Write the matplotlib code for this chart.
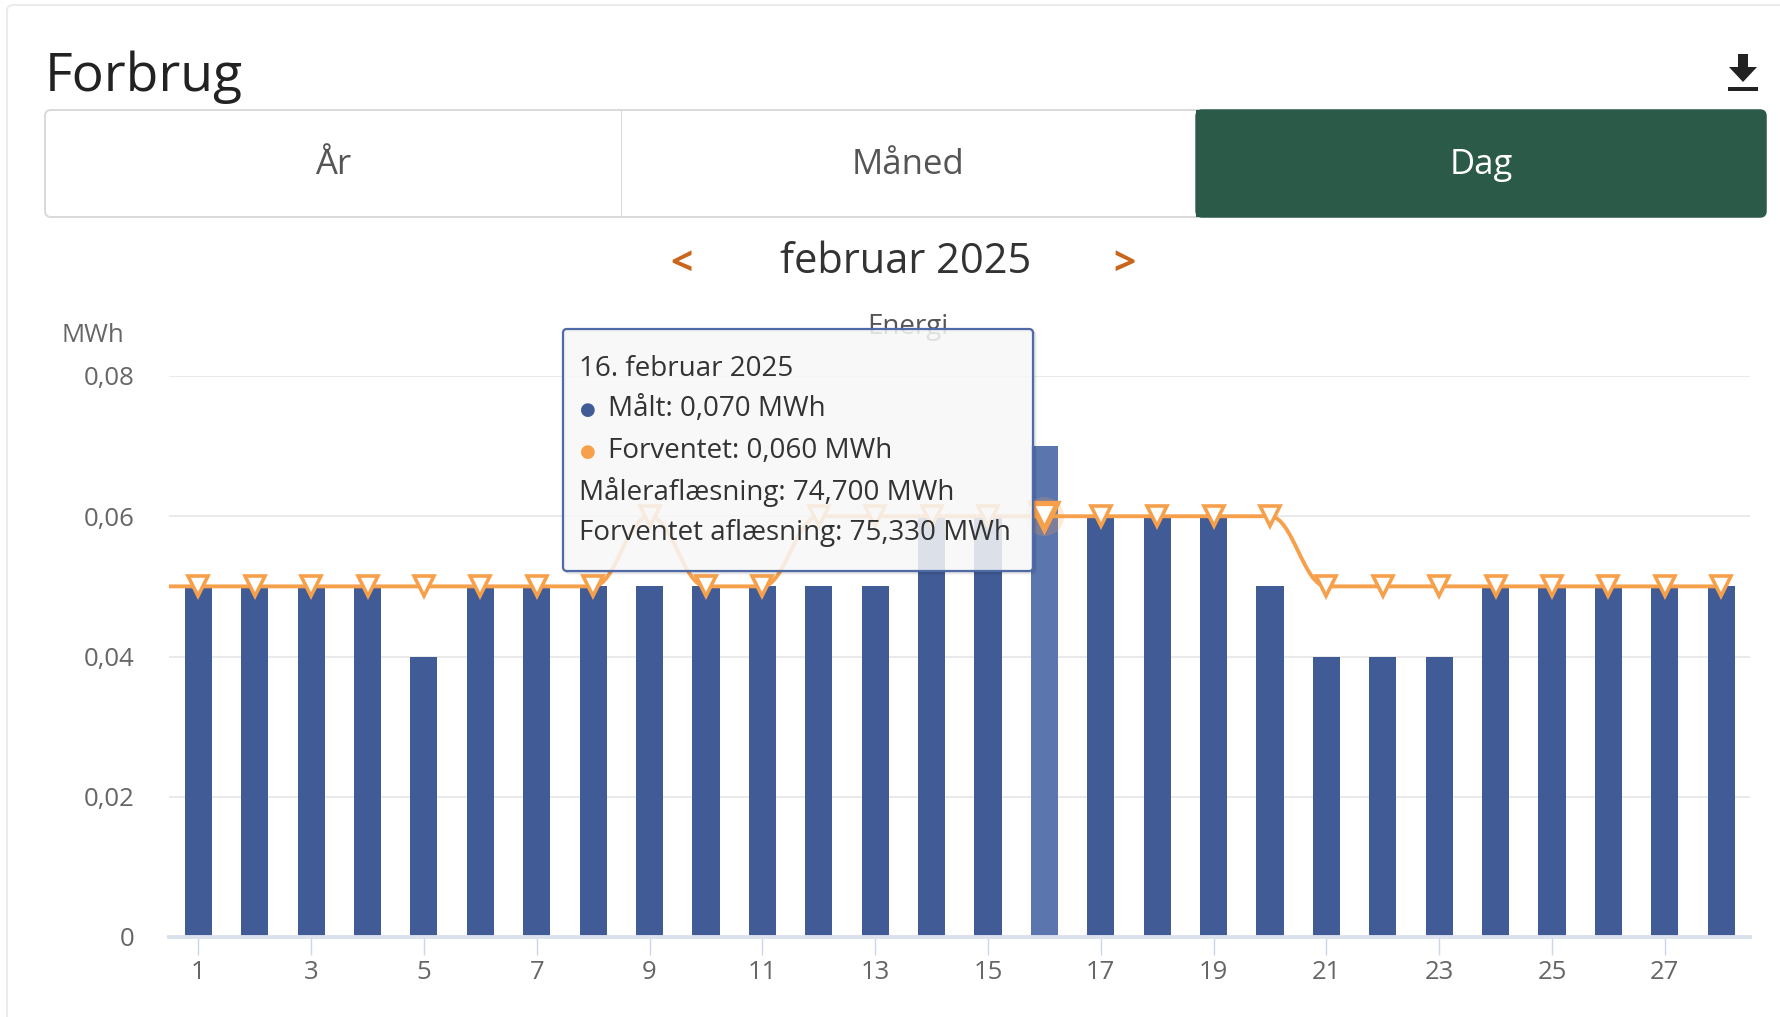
import numpy as np
import matplotlib
matplotlib.use('Agg')
import matplotlib.pyplot as plt
from matplotlib.path import Path
from matplotlib.patches import PathPatch, FancyBboxPatch, Polygon, Rectangle
from matplotlib.transforms import IdentityTransform

# ---------------- data ----------------
days = list(range(1, 29))
measured = [0.05, 0.05, 0.05, 0.05, 0.04, 0.05, 0.05, 0.05, 0.05, 0.05,
            0.05, 0.05, 0.05, 0.06, 0.06, 0.07, 0.06, 0.06, 0.06, 0.05,
            0.04, 0.04, 0.04, 0.05, 0.05, 0.05, 0.05, 0.05]
expected_days = list(range(0, 29))
expected = [0.05, 0.05, 0.05, 0.05, 0.05, 0.05, 0.05, 0.05, 0.05, 0.06,
            0.05, 0.05, 0.06, 0.06, 0.06, 0.06, 0.06, 0.06, 0.06, 0.06,
            0.06, 0.05, 0.05, 0.05, 0.05, 0.05, 0.05, 0.05, 0.05]
highlight_day = 16
xtick_days = list(range(1, 29, 2))
yticks = [0, 0.02, 0.04, 0.06, 0.08]
ytick_labels = ['0', '0,02', '0,04', '0,06', '0,08']
tabs = ['År', 'Måned', 'Dag']
period_label = 'februar 2025'
tooltip_lines = ['16. februar 2025', 'Målt: 0,070 MWh', 'Forventet: 0,060 MWh',
                 'Måleraflæsning: 74,700 MWh', 'Forventet aflæsning: 75,330 MWh']

# ---------------- style ----------------
W, H = 1780, 1017
DPI = 100
FONT = ['Open Sans', 'DejaVu Sans']
plt.rcParams['font.family'] = FONT
BAR = '#405b96'
BAR_HI = '#5b75af'
ORANGE = '#f7a04c'
GREEN = '#2b5a48'

fig = plt.figure(figsize=(W / DPI, H / DPI), dpi=DPI)
fig.patch.set_facecolor('white')
PX = IdentityTransform()


def py(y):
    return H - y


# card border
card = FancyBboxPatch((7, py(1100)), 1900, 1100 - 5, boxstyle='round,pad=0,rounding_size=6',
                      transform=PX, facecolor='white', edgecolor='#ececec', lw=1.5, zorder=-5)
fig.add_artist(card)

# title
fig.text(45 / W, 1 - 91 / H, 'Forbrug', fontsize=38.5, color='#222222', ha='left', va='baseline')

# download icon
cx = 1743
icon = Polygon([(cx - 5, py(54)), (cx + 5, py(54)), (cx + 5, py(67)), (cx + 14, py(67)),
                (cx, py(82)), (cx - 14, py(67)), (cx - 5, py(67))],
               closed=True, transform=PX, facecolor='#222222', edgecolor='none')
fig.add_artist(icon)
fig.add_artist(Rectangle((cx - 15, py(91)), 30, 4, transform=PX, facecolor='#222222', edgecolor='none'))

# tabs
tab_l, tab_r, tab_t, tab_b = 45, 1766, 110, 217
div1, div2 = 621, 1196
fig.add_artist(FancyBboxPatch((tab_l, py(tab_b)), tab_r - tab_l, tab_b - tab_t,
                              boxstyle='round,pad=0,rounding_size=6', transform=PX,
                              facecolor='white', edgecolor='#d9d9d9', lw=1.4, zorder=1))
fig.add_artist(FancyBboxPatch((div2, py(tab_b)), tab_r - div2, tab_b - tab_t,
                              boxstyle='round,pad=0,rounding_size=6', transform=PX,
                              facecolor=GREEN, edgecolor=GREEN, lw=1.0, zorder=1.1))
fig.add_artist(Rectangle((div2, py(tab_b)), 20, tab_b - tab_t, transform=PX,
                         facecolor=GREEN, edgecolor='none', zorder=1.2))
fig.add_artist(Rectangle((div1, py(tab_b)), 1.4, tab_b - tab_t, transform=PX,
                         facecolor='#d9d9d9', edgecolor='none', zorder=1.2))
tab_centers = [(tab_l + div1) / 2, (div1 + div2) / 2, (div2 + tab_r) / 2]
for i, (t, c) in enumerate(zip(tabs, tab_centers)):
    fig.text(c / W, 1 - 165 / H, t, fontsize=25, ha='center', va='center',
             color='white' if i == 2 else '#555555', zorder=2)

# period navigation
fig.text(906 / W, 1 - 262 / H, period_label, fontsize=30, ha='center', va='center', color='#333333')
fig.text(681 / W, 1 - 264 / H, '<', fontsize=28, fontweight='bold', ha='center', va='center', color='#c8661c')
fig.text(1124 / W, 1 - 264 / H, '>', fontsize=28, fontweight='bold', ha='center', va='center', color='#c8661c')

# chart title (behind tooltip)
fig.text(908 / W, 1 - 327 / H, 'Energi', fontsize=20, ha='center', va='center', color='#555555', zorder=2)
# unit label
fig.text(62 / W, 1 - 335 / H, 'MWh', fontsize=18.5, ha='left', va='center', color='#666666')

# ---------------- axes ----------------
ax_l, ax_r, ax_top, ax_bot = 169, 1750, 376, 937
ax = fig.add_axes([ax_l / W, 1 - ax_bot / H, (ax_r - ax_l) / W, (ax_bot - ax_top) / H])
ax.patch.set_alpha(0)
ax.set_xlim(0.48, 28.51)
ax.set_ylim(0, 0.08)

colors = [BAR_HI if d == highlight_day else BAR for d in days]
ax.bar(days, measured, width=0.48, color=colors, zorder=2)


def highcharts_spline(xs, ys, smoothing=1.5):
    n = len(xs)
    denom = smoothing + 1
    verts = [(xs[0], ys[0])]
    codes = [Path.MOVETO]
    right = [None] * n
    for i in range(1, n):
        px, pyv = xs[i], ys[i]
        lx, ly = xs[i - 1], ys[i - 1]
        if i < n - 1:
            nx, ny = xs[i + 1], ys[i + 1]
            lcx = (smoothing * px + lx) / denom
            lcy = (smoothing * pyv + ly) / denom
            rcx = (smoothing * px + nx) / denom
            rcy = (smoothing * pyv + ny) / denom
            corr = 0
            if rcx != lcx:
                corr = (rcy - lcy) * (rcx - px) / (rcx - lcx) + pyv - rcy
            lcy += corr
            rcy += corr
            if lcy > ly and lcy > pyv:
                lcy = max(ly, pyv); rcy = 2 * pyv - lcy
            elif lcy < ly and lcy < pyv:
                lcy = min(ly, pyv); rcy = 2 * pyv - lcy
            if rcy > ny and rcy > pyv:
                rcy = max(ny, pyv); lcy = 2 * pyv - rcy
            elif rcy < ny and rcy < pyv:
                rcy = min(ny, pyv); lcy = 2 * pyv - rcy
            right[i] = (rcx, rcy)
        else:
            lcx, lcy = px, pyv
        prev_r = right[i - 1] if right[i - 1] is not None else (lx, ly)
        verts += [prev_r, (lcx, lcy), (px, pyv)]
        codes += [Path.CURVE4] * 3
    return Path(verts, codes)


spline = highcharts_spline(expected_days, expected)
ax.add_patch(PathPatch(spline, facecolor='none', edgecolor=ORANGE, lw=2.8, zorder=3,
                       capstyle='round', joinstyle='round'))
ax.plot(expected_days, expected, linestyle='none', marker='v', ms=15, mfc='white',
        mec=ORANGE, mew=2.6, zorder=4)
hi_idx = expected_days.index(highlight_day)
ax.plot([highlight_day], [expected[hi_idx]], linestyle='none', marker='o', ms=28,
        color=ORANGE, alpha=0.22, mew=0, zorder=3.5)
ax.plot([highlight_day], [expected[hi_idx]], linestyle='none', marker='v', ms=19, mfc='white',
        mec=ORANGE, mew=3.8, zorder=4.5)

ax.set_yticks(yticks)
ax.set_yticklabels(ytick_labels)
ax.set_xticks(xtick_days)
ax.set_xticklabels([str(d) for d in xtick_days])
ax.grid(axis='y', color='#e6e6e6', lw=1.2, zorder=0)
ax.set_axisbelow(True)
for s in ['top', 'right', 'left']:
    ax.spines[s].set_visible(False)
ax.spines['bottom'].set_color('#dbe2ee')
ax.spines['bottom'].set_linewidth(2.8)
ax.spines['bottom'].set_zorder(5)
ax.tick_params(axis='y', length=0, pad=25, labelsize=18.5, labelcolor='#666666')
ax.tick_params(axis='x', length=13, width=1.0, color='#ccd6eb', pad=3.5, labelsize=18.5,
               labelcolor='#666666')

# ---------------- tooltip ----------------
tl, tr, tt, tb = 563, 1033, 329, 571
# soft shadow along right/bottom edges only
for k, a in [(3, 0.05), (2, 0.08), (1, 0.12)]:
    fig.add_artist(FancyBboxPatch((tl + k, py(tb + k)), tr - tl, tb - tt,
                                  boxstyle='round,pad=0,rounding_size=4', transform=PX,
                                  facecolor='none', edgecolor=(0, 0, 0, a), lw=1.0, zorder=9))
fig.add_artist(FancyBboxPatch((tl, py(tb)), tr - tl, tb - tt,
                              boxstyle='round,pad=0,rounding_size=4', transform=PX,
                              facecolor=(0.969, 0.969, 0.969, 0.86), edgecolor='#4f6aa6',
                              lw=1.6, zorder=10))
line_y = [369, 409, 451, 492, 533]
bullets = {1: BAR, 2: ORANGE}
for i, (txt, yy) in enumerate(zip(tooltip_lines, line_y)):
    x0 = 579
    if i in bullets:
        fig.text(588 / W, 1 - (yy + 1) / H, '●', family='DejaVu Sans', fontsize=13,
                 color=bullets[i], ha='center', va='center', zorder=11)
        x0 = 608
    fig.text(x0 / W, 1 - yy / H, txt, fontsize=20, color='#333333', ha='left', va='center', zorder=11)

fig.savefig('out.png', dpi=DPI, facecolor='white')
